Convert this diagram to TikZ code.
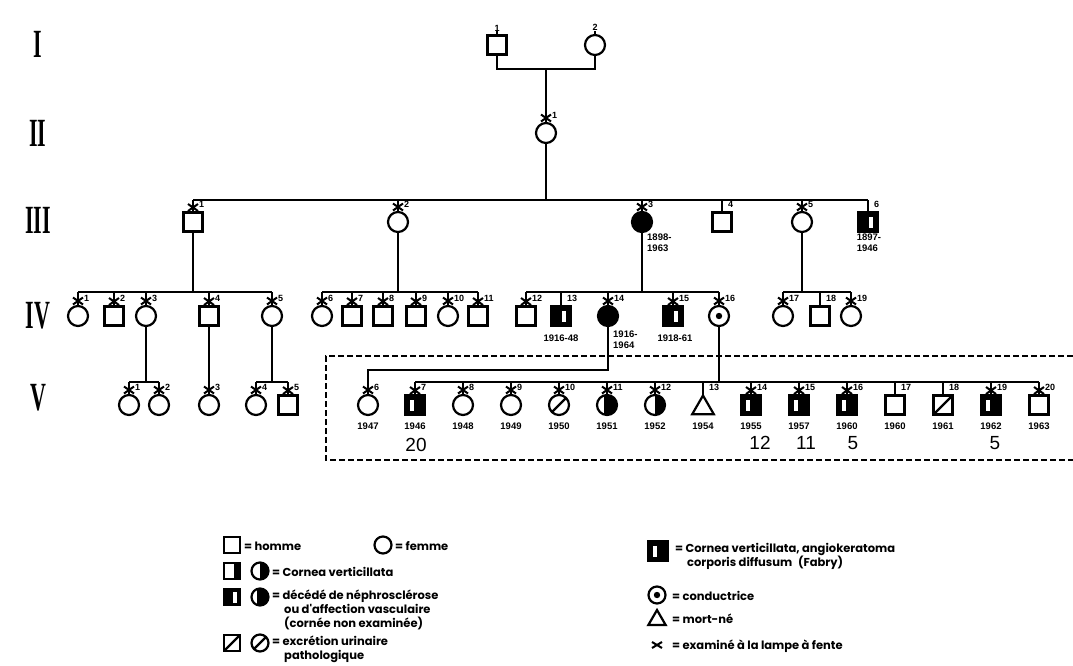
\documentclass[tikz,border=0pt]{standalone}
\usepackage{graphicx}
\usepackage{fontspec}
\setmainfont{Liberation Sans}
\newfontfamily\romf{Liberation Serif}
\newfontfamily\lgf{Poppins}
\usetikzlibrary{shapes.geometric}
\tikzset{
  sym/.style={draw, line width=2.2pt, inner sep=0pt, outer sep=0pt, fill=white},
  male/.style={sym, rectangle, minimum width=19pt, minimum height=19pt},
  fem/.style={sym, circle, minimum size=20pt},
  ln/.style={line width=2.2pt},
  starl/.style={line width=2pt},
  nlab/.style={font=\bfseries\fontsize{9}{9}\selectfont, inner sep=0pt},
  yr/.style={font=\bfseries\fontsize{9.5}{11}\selectfont, inner sep=0pt},
  hand/.style={font=\fontsize{19}{19}\selectfont, inner sep=0pt},
  roman/.style={font=\romf\bfseries\fontsize{40}{40}\selectfont, inner sep=0pt},
  lgtext/.style={font=\lgf\bfseries\fontsize{11.5}{14}\selectfont, inner sep=0pt, anchor=west, align=left},
  deadm/.style={male, fill=black, path picture={\fill[white] ([xshift=1pt,yshift=-6pt]path picture bounding box.center) rectangle ([xshift=5pt,yshift=5pt]path picture bounding box.center);}},
  fabry/.style={male, fill=black, path picture={\fill[white] ([xshift=-5pt,yshift=-6pt]path picture bounding box.center) rectangle ([xshift=-1pt,yshift=5pt]path picture bounding box.center);}},
  cvm/.style={male, path picture={\fill[black] ([xshift=2pt]path picture bounding box.south) rectangle (path picture bounding box.north east);}},
  cvf/.style={fem, path picture={\fill[black] (path picture bounding box.south) rectangle (path picture bounding box.north east);}},
  deadf/.style={fem, fill=black},
  deadff/.style={fem, fill=black, path picture={\fill[white] ([xshift=-11pt,yshift=-11pt]path picture bounding box.center) rectangle ([xshift=-3pt,yshift=11pt]path picture bounding box.center);}},
  condf/.style={fem, path picture={\fill[black] (path picture bounding box.center) circle (3.2pt);}},
  slm/.style={male, path picture={\draw[line width=2.2pt] (path picture bounding box.south west) -- (path picture bounding box.north east);}},
  slf/.style={fem, path picture={\draw[line width=2.2pt] (path picture bounding box.south west) -- (path picture bounding box.north east);}},
  stillb/.style={sym, regular polygon, regular polygon sides=3, minimum size=25pt},
  boxdash/.style={line width=1.5pt, dash pattern=on 6pt off 3pt},
}
\newcommand\xmk[1]{\draw[starl] ([yshift=5pt]#1.north) +(-5pt,-3.5pt) -- +(5pt,3.5pt) +(-5pt,3.5pt) -- +(5pt,-3.5pt);}
\newcommand\nlb[2]{\node[nlab, anchor=west] (lb#1) at ([xshift=6pt,yshift=8pt]#1.north) {#2};}
\newcommand\yrs[2]{\node[yr] (yr#1) at (#1.south |- 0,426) {#2};}
\begin{document}
\begin{tikzpicture}[x=1pt,y=-1pt]
\useasboundingbox (0,0) rectangle (1073,666);
% generation numerals
\node[roman] (gI) at (38,44) {\scalebox{0.55}[1]{I}};
\node[roman] (gII) at (38,133) {\scalebox{0.55}[1]{II}};
\node[roman] (gIII) at (38,220) {\scalebox{0.55}[1]{III}};
\node[roman] (gIV) at (38,316) {\scalebox{0.55}[1]{IV}};
\node[roman] (gV) at (38,398) {\scalebox{0.55}[1]{V}};
% line levels
\coordinate (l1) at (0,69);
\coordinate (l3) at (0,200);
\coordinate (l4) at (0,292);
\coordinate (l5a) at (0,370);
\coordinate (l5b) at (0,382);
% Gen I
\node[male] (i1) at (497,45) {};
\node[fem] (i2) at (595,45) {};
\node[nlab, anchor=south] (lbi1) at ([yshift=4pt]i1.north) {1};
\node[nlab, anchor=south] (lbi2) at ([yshift=4pt]i2.north) {2};
\draw[ln] (i1.north) -- ++(0,4pt) (i2.north) -- ++(0,4pt);
% Gen II
\node[fem] (ii1) at (546,133) {};
\draw[ln] (i1.south) -- (i1.south |- l1) -- (i2.south |- l1) -- (i2.south);
\draw[ln] (ii1.north |- l1) -- (ii1.north);
\xmk{ii1}\nlb{ii1}{1}
% Gen III
\node[male] (iii1) at (193,222) {};
\node[fem] (iii2) at (398,222) {};
\node[deadf] (iii3) at (642,222) {};
\node[male] (iii4) at (722,222) {};
\node[fem] (iii5) at (802,222) {};
\node[deadm] (iii6) at (868,222) {};
\draw[ln] (ii1.south) -- (ii1.south |- l3);
\draw[ln] (iii1.north |- l3) -- (iii6.north |- l3);
\foreach \n/\k in {iii1/1,iii2/2,iii3/3,iii4/4,iii5/5,iii6/6}{
  \draw[ln] (\n.north |- l3) -- (\n.north);
  \nlb{\n}{\k}
}
\xmk{iii1}\xmk{iii2}\xmk{iii3}\xmk{iii5}
\node[yr, anchor=north west, align=left] (d3) at (647,234) {1898-\\1963};
\node[yr, anchor=north, align=left] (d6) at (869,234) {1897-\\1946};
% Gen IV
\node[fem] (iv1) at (78,316) {};
\node[male] (iv2) at (114,316) {};
\node[fem] (iv3) at (146,316) {};
\node[male] (iv4) at (209,316) {};
\node[fem] (iv5) at (272,316) {};
\node[fem] (iv6) at (322,316) {};
\node[male] (iv7) at (352,316) {};
\node[male] (iv8) at (383,316) {};
\node[male] (iv9) at (416,316) {};
\node[fem] (iv10) at (448,316) {};
\node[male] (iv11) at (478,316) {};
\node[male] (iv12) at (526,316) {};
\node[deadm] (iv13) at (561,316) {};
\node[deadf] (iv14) at (608,316) {};
\node[deadm] (iv15) at (673,316) {};
\node[condf] (iv16) at (719,316) {};
\node[fem] (iv17) at (783,316) {};
\node[male] (iv18) at (820,316) {};
\node[fem] (iv19) at (851,316) {};
\draw[ln] (iii1.south) -- (iii1.south |- l4);
\draw[ln] (iii2.south) -- (iii2.south |- l4);
\draw[ln] (iii3.south) -- (iii3.south |- l4);
\draw[ln] (iii5.south) -- (iii5.south |- l4);
\draw[ln] (iv1.north |- l4) -- (iv5.north |- l4);
\draw[ln] (iv6.north |- l4) -- (iv11.north |- l4);
\draw[ln] (iv12.north |- l4) -- (iv16.north |- l4);
\draw[ln] (iv17.north |- l4) -- (iv19.north |- l4);
\foreach \n/\k in {iv1/1,iv2/2,iv3/3,iv4/4,iv5/5,iv6/6,iv7/7,iv8/8,iv9/9,iv10/10,iv11/11,iv12/12,iv13/13,iv14/14,iv15/15,iv16/16,iv17/17,iv18/18,iv19/19}{
  \draw[ln] (\n.north |- l4) -- (\n.north);
  \nlb{\n}{\k}
}
\foreach \n in {iv1,iv2,iv3,iv4,iv5,iv6,iv7,iv8,iv9,iv10,iv11,iv12,iv14,iv15,iv16,iv17,iv19}{\xmk{\n}}
\node[yr] (d13) at (561,338) {1916-48};
\node[yr, anchor=north west, align=left] (d14) at (613,331) {1916-\\1964};
\node[yr] (d15) at (675,338) {1918-61};
% dashed frame
\draw[boxdash] (1073,356) -- (326,356) -- (326,460) -- (1073,460);
% Gen V
\node[fem] (v1) at (129,405) {};
\node[fem] (v2) at (159,405) {};
\node[fem] (v3) at (209,405) {};
\node[fem] (v4) at (256,405) {};
\node[male] (v5) at (288,405) {};
\node[fem] (v6) at (368,405) {};
\node[fabry] (v7) at (415,405) {};
\node[fem] (v8) at (463,405) {};
\node[fem] (v9) at (511,405) {};
\node[slf] (v10) at (559,405) {};
\node[deadff] (v11) at (607,405) {};
\node[cvf] (v12) at (655,405) {};
\node[stillb] (v13) at (703,408) {};
\node[fabry] (v14) at (751,405) {};
\node[fabry] (v15) at (799,405) {};
\node[fabry] (v16) at (847,405) {};
\node[male] (v17) at (895,405) {};
\node[slm] (v18) at (943,405) {};
\node[fabry] (v19) at (991,405) {};
\node[male] (v20) at (1039,405) {};
\draw[ln] (iv3.south) -- (iv3.south |- l5b);
\draw[ln] (v1.north |- l5b) -- (v2.north |- l5b);
\draw[ln] (iv4.south) -- (v3.north);
\draw[ln] (iv5.south) -- (iv5.south |- l5b);
\draw[ln] (v4.north |- l5b) -- (v5.north |- l5b);
\draw[ln] (iv14.south) -- (iv14.south |- l5a) -- (v6.north |- l5a) -- (v6.north);
\draw[ln] (iv16.south) -- (iv16.south |- l5b);
\draw[ln] (v7.north |- l5b) -- (v20.north |- l5b);
\foreach \n/\k in {v1/1,v2/2,v4/4,v5/5,v7/7,v8/8,v9/9,v10/10,v11/11,v12/12,v13/13,v14/14,v15/15,v16/16,v17/17,v18/18,v19/19,v20/20}{
  \draw[ln] (\n.north |- l5b) -- (\n.north);
}
\foreach \n/\k in {v1/1,v2/2,v3/3,v4/4,v5/5,v6/6,v7/7,v8/8,v9/9,v10/10,v11/11,v12/12,v13/13,v14/14,v15/15,v16/16,v17/17,v18/18,v19/19,v20/20}{
  \nlb{\n}{\k}
}
\foreach \n in {v1,v2,v3,v4,v5,v6,v7,v8,v9,v10,v11,v12,v14,v15,v16,v19,v20}{\xmk{\n}}
\yrs{v6}{1947}\yrs{v7}{1946}\yrs{v8}{1948}\yrs{v9}{1949}\yrs{v10}{1950}
\yrs{v11}{1951}\yrs{v12}{1952}\yrs{v13}{1954}\yrs{v14}{1955}\yrs{v15}{1957}
\yrs{v16}{1960}\yrs{v17}{1960}\yrs{v18}{1961}\yrs{v19}{1962}\yrs{v20}{1963}
\node[hand] (h7) at (416,445) {20};
\node[hand] (h14) at (760,443) {12};
\node[hand] (h15) at (806,443) {11};
\node[hand] (h16) at (853,443) {5};
\node[hand] (h19) at (995,443) {5};
% legend left
\node[male, minimum width=16pt, minimum height=16pt] (lm1) at (232,545) {};
\node[lgtext] (lt1) at (244,546) {= homme};
\node[fem, minimum size=17pt] (lf1) at (383,545) {};
\node[lgtext] (lt1b) at (395,546) {= femme};
\node[cvm, minimum width=16pt, minimum height=16pt] (lm2) at (232,571) {};
\node[cvf, minimum size=17pt] (lf2) at (260,571) {};
\node[lgtext] (lt2) at (272,572) {= Cornea verticillata};
\node[deadm, minimum width=16pt, minimum height=16pt] (lm3) at (232,597) {};
\node[deadff, minimum size=17pt] (lf3) at (260,597) {};
\node[lgtext, anchor=north west] (lt3) at (272,590) {= décédé de néphrosclérose\\\hspace*{12pt}ou d'affection vasculaire\\\hspace*{12pt}(cornée non examinée)};
\node[slm, minimum width=16pt, minimum height=16pt] (lm4) at (232,643) {};
\node[slf, minimum size=17pt] (lf4) at (260,643) {};
\node[lgtext, anchor=north west] (lt4) at (272,636) {= excrétion urinaire\\\hspace*{12pt}pathologique};
% legend right
\node[fabry, line width=2.8pt] (lr1) at (658,551) {};
\node[lgtext, anchor=north west] (lrt1) at (675,543) {= Cornea verticillata, angiokeratoma\\\hspace*{12pt}corporis diffusum\enspace(Fabry)};
\node[condf, minimum size=17pt] (lr2) at (657,595) {};
\node[lgtext] (lrt2) at (672,596) {= conductrice};
\node[stillb, minimum size=20pt] (lr3) at (657,620) {};
\node[lgtext] (lrt3) at (672,619) {= mort-né};
\coordinate (lr4) at (657,645);
\draw[starl] (lr4) +(-5pt,-3pt) -- +(5pt,3pt) +(-5pt,3pt) -- +(5pt,-3pt);
\node[lgtext] (lrt4) at (672,646) {= examiné à la lampe à fente};
\end{tikzpicture}
\end{document}
